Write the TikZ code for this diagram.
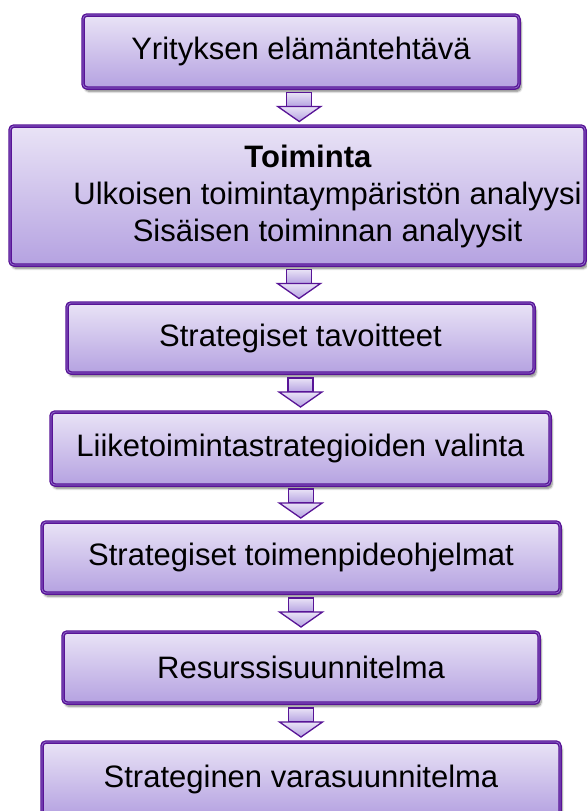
\documentclass[tikz,border=0pt]{standalone}
\usepackage{fontspec}
\setmainfont{Liberation Sans}
\usetikzlibrary{positioning, calc, shadows.blur}

\definecolor{boxborder}{RGB}{88,20,150}
\definecolor{boxinner}{RGB}{150,118,210}
\definecolor{boxtop}{RGB}{233,227,246}
\definecolor{boxbottom}{RGB}{181,162,225}

\tikzset{
  stagebox/.style={rectangle, rounded corners=4pt, draw=boxborder, double=boxinner,
    double distance=0.7pt, line width=1.4pt, top color=boxtop, bottom color=boxbottom,
    blur shadow={shadow xshift=2pt, shadow yshift=-3.5pt, shadow blur steps=6, shadow opacity=50},
    inner sep=0pt, font=\fontsize{31}{37}\selectfont},
  downarrow/.style={draw=boxborder, line width=1.3pt, line join=miter, top color=boxtop, bottom color=boxbottom}
}

\begin{document}
\begin{tikzpicture}[x=1pt, y=1pt]
  \clip (0,0) rectangle (587,-811);

  \node[stagebox, minimum width=436pt, minimum height=73pt] (b1) at (301,-51.5) {Yrityksen elämäntehtävä};
  \node[stagebox, minimum width=575pt, minimum height=139pt] (b2) at (297.5,-195.5) {};
  \node[align=center, inner sep=0pt, font=\fontsize{31}{37}\selectfont] (b2text) at ($(b2.center)+(30,-1)$)
    {\textbf{Toiminta}\hspace*{39pt}\\Ulkoisen toimintaympäristön analyysi\\Sisäisen toiminnan analyysit};
  \node[stagebox, minimum width=467pt, minimum height=70pt] (b3) at (300.5,-338) {Strategiset tavoitteet};
  \node[stagebox, minimum width=499pt, minimum height=73pt] (b4) at (300.5,-448.5) {Liiketoimintastrategioiden valinta};
  \node[stagebox, minimum width=518pt, minimum height=71pt] (b5) at (301,-557.5) {Strategiset toimenpideohjelmat};
  \node[stagebox, minimum width=476pt, minimum height=71pt] (b6) at (301,-667.5) {Resurssisuunnitelma};
  \node[stagebox, minimum width=518pt, minimum height=74pt] (b7) at (301,-779) {Strateginen varasuunnitelma};

  % block arrows between the stages
  \foreach \a/\b in {b1/b2, b2/b3, b3/b4, b4/b5, b5/b6, b6/b7}{
    \coordinate (m) at ($(\a.south)!0.5!(\b.north)$);
    \draw[downarrow] ($(m)+(-12.5,14.5)$) rectangle ($(m)+(12.5,0.5)$);
    \draw[downarrow] ($(m)+(-21.5,0.5)$) -- ($(m)+(21.5,0.5)$) -- ($(m)+(0,-14.5)$) -- cycle;
  }
\end{tikzpicture}
\end{document}
